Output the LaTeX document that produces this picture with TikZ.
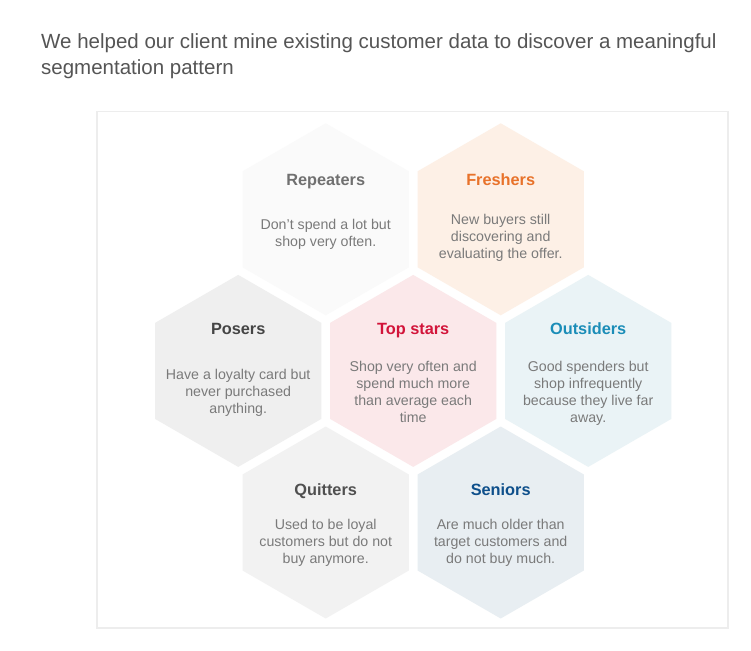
\documentclass[tikz,border=0pt]{standalone}
\usepackage{fontspec}
\setmainfont{Liberation Sans}
\usetikzlibrary{shapes.geometric}
\definecolor{framec}{HTML}{EDEDED}
\definecolor{headc}{HTML}{555555}
\definecolor{bodyc}{HTML}{7A7A7A}
\definecolor{fRep}{HTML}{FAFAFA}
\definecolor{fFre}{HTML}{FDF0E6}
\definecolor{fPos}{HTML}{EFEFEF}
\definecolor{fTop}{HTML}{FBE8EA}
\definecolor{fOut}{HTML}{EAF3F6}
\definecolor{fQui}{HTML}{F2F2F2}
\definecolor{fSen}{HTML}{E8EEF2}
\definecolor{tRep}{HTML}{707070}
\definecolor{tFre}{HTML}{E8722A}
\definecolor{tPos}{HTML}{454545}
\definecolor{tTop}{HTML}{D2143A}
\definecolor{tOut}{HTML}{1B8DB8}
\definecolor{tQui}{HTML}{505050}
\definecolor{tSen}{HTML}{0E4F8B}
\tikzset{
  hexcell/.style={regular polygon, regular polygon sides=6, shape border rotate=30,
    minimum size=192pt, inner sep=0pt, outer sep=0pt, draw=none, fill=#1},
  hextitle/.style={anchor=base, inner sep=0pt, font=\fontsize{16.3}{19}\selectfont\bfseries, text=#1},
  hexbody/.style={anchor=north, inner sep=0pt, align=center, text=bodyc,
    font=\fontsize{14.2}{17}\selectfont},
  headline/.style={anchor=north west, inner sep=0pt, align=left, text=headc,
    font=\fontsize{20.5}{25.3}\selectfont}
}
\begin{document}
\begin{tikzpicture}[x=1pt,y=-1pt]
\useasboundingbox (0,0) rectangle (751,650);
\fill[white] (0,0) rectangle (751,650);
\node[headline] (head) at (41,30.8) {\strut We helped our client mine existing customer data to discover a meaningful\\segmentation pattern};
\draw[framec, line width=1.2pt] (97,111.5) rectangle (728,628);
% hexagons
\node[hexcell=fRep] (rep) at (325.7,219.3) {};
\node[hexcell=fFre] (fre) at (500.7,219.3) {};
\node[hexcell=fPos] (pos) at (238.2,370.9) {};
\node[hexcell=fTop] (top) at (413.2,370.9) {};
\node[hexcell=fOut] (out) at (588.2,370.9) {};
\node[hexcell=fQui] (qui) at (325.7,522.5) {};
\node[hexcell=fSen] (sen) at (500.7,522.5) {};
% titles
\node[hextitle=tRep] (repT) at (325.7,185) {Repeaters};
\node[hextitle=tFre] (freT) at (500.7,185) {Freshers};
\node[hextitle=tPos] (posT) at (238.2,334) {Posers};
\node[hextitle=tTop] (topT) at (413.2,334) {Top stars};
\node[hextitle=tOut] (outT) at (588.2,334) {Outsiders};
\node[hextitle=tQui] (quiT) at (325.7,495.5) {Quitters};
\node[hextitle=tSen] (senT) at (500.7,495.5) {Seniors};
% bodies (first baseline = y + 11.9)
\node[hexbody] (repB) at (325.7,217.1) {\strut Don’t spend a lot but\\shop very often.};
\node[hexbody] (freB) at (500.7,212.1) {\strut New buyers still\\discovering and\\evaluating the offer.};
\node[hexbody] (posB) at (238.2,367.1) {\strut Have a loyalty card but\\never purchased\\anything.};
\node[hexbody] (topB) at (413.2,359.6) {\strut Shop very often and\\spend much more\\than average each\\time};
\node[hexbody] (outB) at (588.2,359.1) {\strut Good spenders but\\shop infrequently\\because they live far\\away.};
\node[hexbody] (quiB) at (325.7,517.1) {\strut Used to be loyal\\customers but do not\\buy anymore.};
\node[hexbody] (senB) at (500.7,517.1) {\strut Are much older than\\target customers and\\do not buy much.};
\end{tikzpicture}
\end{document}
